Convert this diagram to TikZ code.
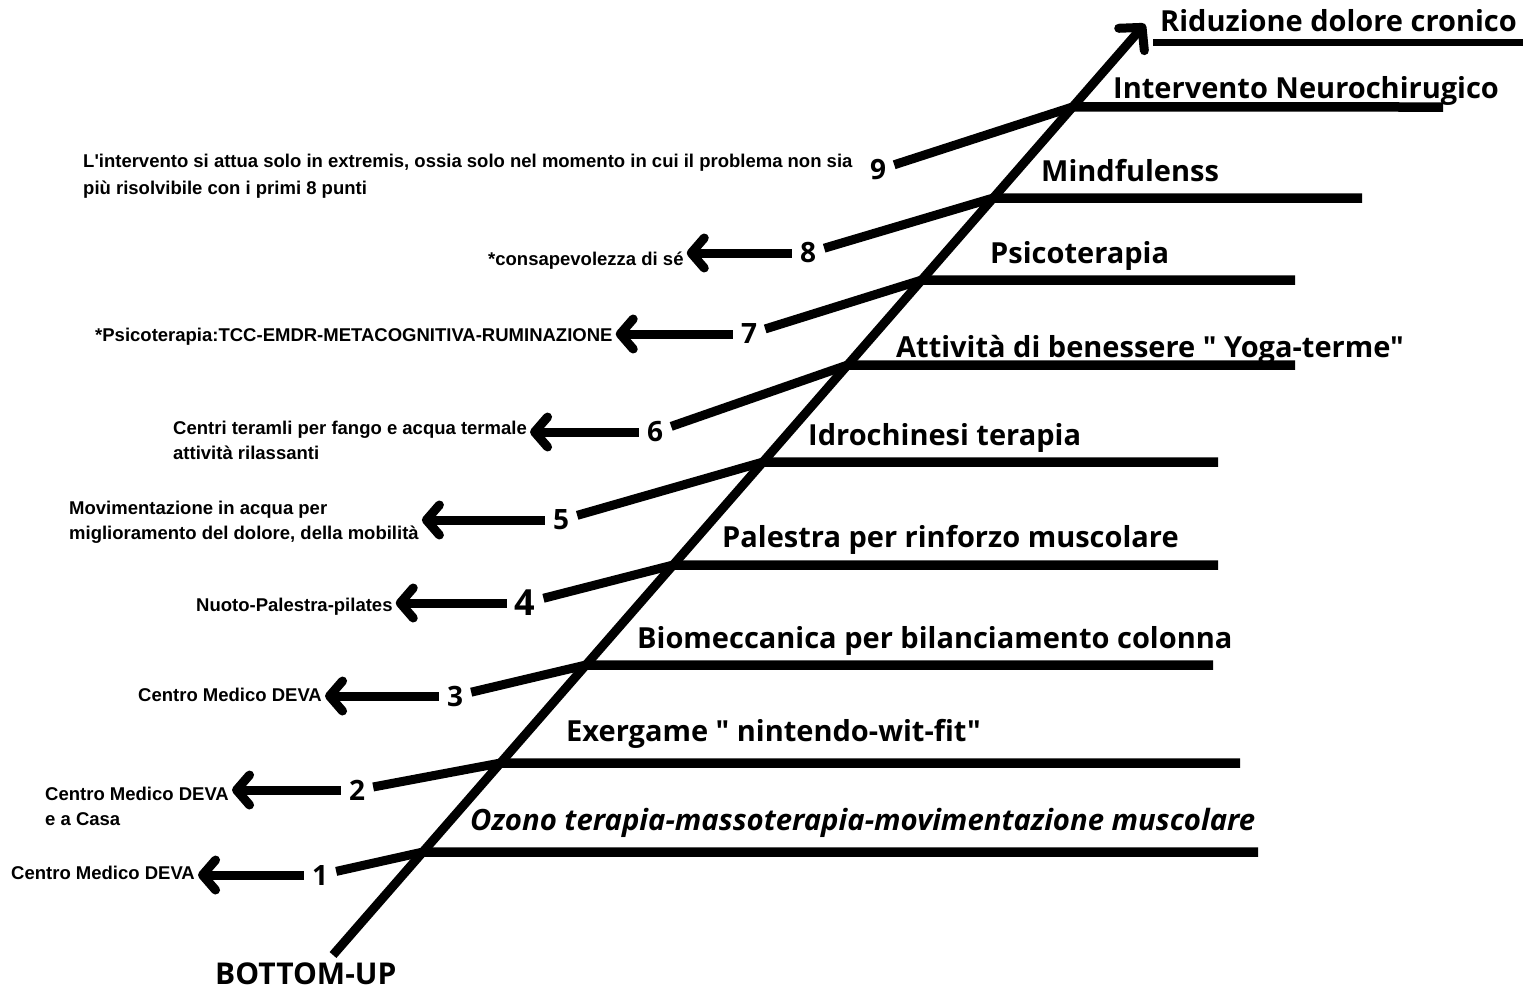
\documentclass[tikz,border=0pt]{standalone}
\usepackage{fontspec}
\setmainfont{Open Sans}
\newfontfamily\headfont{Open Sans}
\newfontfamily\notefont{Liberation Sans}
\usetikzlibrary{arrows.meta,calc}

\begin{document}
\begin{tikzpicture}[x=1pt, y=-1pt,
    bar/.style={line width=9.5pt},
    spoke/.style={line width=9pt},
    back/.style={line width=9pt, -{Straight Barb[length=13pt, width=30pt, round]}},
    head/.style={anchor=base west, inner sep=0pt, font=\headfont\bfseries\fontsize{29}{34}\selectfont},
    num/.style={inner sep=8pt, font=\headfont\bfseries\fontsize{28}{30}\selectfont},
    note/.style={anchor=base west, inner sep=3pt, align=left,
      font=\notefont\bfseries\fontsize{18.5}{25}\selectfont}
  ]
    \fill[white] (0,0) rectangle (1540,989);
    \useasboundingbox (0,0) rectangle (1540,989);

    % main stem
    \coordinate (bu) at (333,955);
    \coordinate (top) at (1145,24);
    \path (bu) -- (top)
      coordinate[pos=0.1106] (s1) coordinate[pos=0.2062] (s2)
      coordinate[pos=0.3115] (s3) coordinate[pos=0.4189] (s4)
      coordinate[pos=0.5295] (s5) coordinate[pos=0.6337] (s6)
      coordinate[pos=0.7250] (s7) coordinate[pos=0.8131] (s8)
      coordinate[pos=0.9109] (s9);
    \draw[spoke, -{Straight Barb[length=16pt, width=34pt, round]}] (bu) -- (top);

    % right ends of the rungs
    \coordinate (e1) at (1258,852);
    \coordinate (e2) at (1240,763);
    \coordinate (e3) at (1213,665);
    \coordinate (e4) at (1218,565);
    \coordinate (e5) at (1218,462);
    \coordinate (e6) at (1295,365);
    \coordinate (e7) at (1295,280);
    \coordinate (e8) at (1362,198);
    \coordinate (e9) at (1443,107);

    % titles
    \node[head] (goal) at (1160,31) {Riduzione dolore cronico};
    \node[head] (h9) at (1113,98) {Intervento Neurochirugico};
    \node[head] (h8) at (1041,181) {Mindfulenss};
    \node[head] (h7) at (990,263) {Psicoterapia};
    \node[head] (h6) at (896,357) {Attività di benessere " Yoga-terme"};
    \node[head] (h5) at (808,445) {Idrochinesi terapia};
    \node[head] (h4) at (722,547) {Palestra per rinforzo muscolare};
    \node[head] (h3) at (637,648) {Biomeccanica per bilanciamento colonna};
    \node[head] (h2) at (566,741) {Exergame " nintendo-wit-fit"};
    \node[head, font=\headfont\bfseries\itshape\fontsize{29.3}{34}\selectfont] (h1) at (470,830)
      {Ozono terapia-massoterapia-movimentazione muscolare};
    \node[head, text depth=0pt, font=\headfont\bfseries\fontsize{30}{34}\selectfont] (bottom) at (215,984) {BOTTOM-UP};
    \draw[line width=7pt] ([yshift=-11pt]goal.base west) ++(-7,0) -- ([yshift=-11pt, xshift=6pt]goal.base east);

    % numbers
    \node[num] (n1) at (320,875) {1};
    \node[num] (n2) at (357,790) {2};
    \node[num] (n3) at (455,696) {3};
    \node[num, font=\headfont\bfseries\fontsize{36}{38}\selectfont] (n4) at (525,603) {4};
    \node[num] (n5) at (561,520) {5};
    \node[num] (n6) at (655,432) {6};
    \node[num] (n7) at (749,334) {7};
    \node[num] (n8) at (808,253) {8};
    \node[num] (n9) at (878,170) {9};

    % side notes (base = last line)
    \node[note] (t1) at (8,879) {Centro Medico DEVA};
    \node[note] (t2) at (42,825) {Centro Medico DEVA\\e a Casa};
    \node[note] (t3) at (135,701) {Centro Medico DEVA};
    \node[note] (t4) at (193,611) {Nuoto-Palestra-pilates};
    \node[note] (t5) at (66,539) {Movimentazione in acqua per\\miglioramento del dolore, della mobilità};
    \node[note] (t6) at (170,459) {Centri teramli per fango e acqua termale\\attività rilassanti};
    \node[note] (t7) at (92,341) {*Psicoterapia:TCC-EMDR-METACOGNITIVA-RUMINAZIONE};
    \node[note] (t8) at (485,265) {*consapevolezza di sé};
    \node[note, font=\notefont\bfseries\fontsize{18.5}{27}\selectfont] (t9) at (80,194)
      {L'intervento si attua solo in extremis, ossia solo nel momento in cui il problema non sia\\più risolvibile con i primi 8 punti};

    % rungs
    \draw[bar] (s1) -- (e1);
    \draw[bar] (s2) -- (e2);
    \draw[bar] (s3) -- (e3);
    \draw[bar] (s4) -- (e4);
    \draw[bar] (s5) -- (e5);
    \draw[bar] (s6) -- (e6);
    \draw[bar] (s7) -- (e7);
    \draw[bar] (s8) -- (e8);
    \draw[bar] (s9) -- (e9);

    % spokes
    \draw[spoke] (n1) -- (s1);
    \draw[spoke] (n2) -- (s2);
    \draw[spoke] (n3) -- (s3);
    \draw[spoke] (n4) -- (s4);
    \draw[spoke] (n5) -- (s5);
    \draw[spoke] (n6) -- (s6);
    \draw[spoke] (n7) -- (s7);
    \draw[spoke] (n8) -- (s8);
    \draw[spoke] (n9) -- (s9);

    % arrows back to the notes
    \draw[back] (n1.west) -- (n1.west -| t1.east);
    \draw[back] (n2.west) -- (n2.west -| t2.east);
    \draw[back] (n3.west) -- (n3.west -| t3.east);
    \draw[back] (n4.west) -- (n4.west -| t4.east);
    \draw[back] (n5.west) -- (n5.west -| t5.east);
    \draw[back] (n6.west) -- (n6.west -| t6.east);
    \draw[back] (n7.west) -- (n7.west -| t7.east);
    \draw[back] (n8.west) -- (n8.west -| t8.east);
\end{tikzpicture}
\end{document}
